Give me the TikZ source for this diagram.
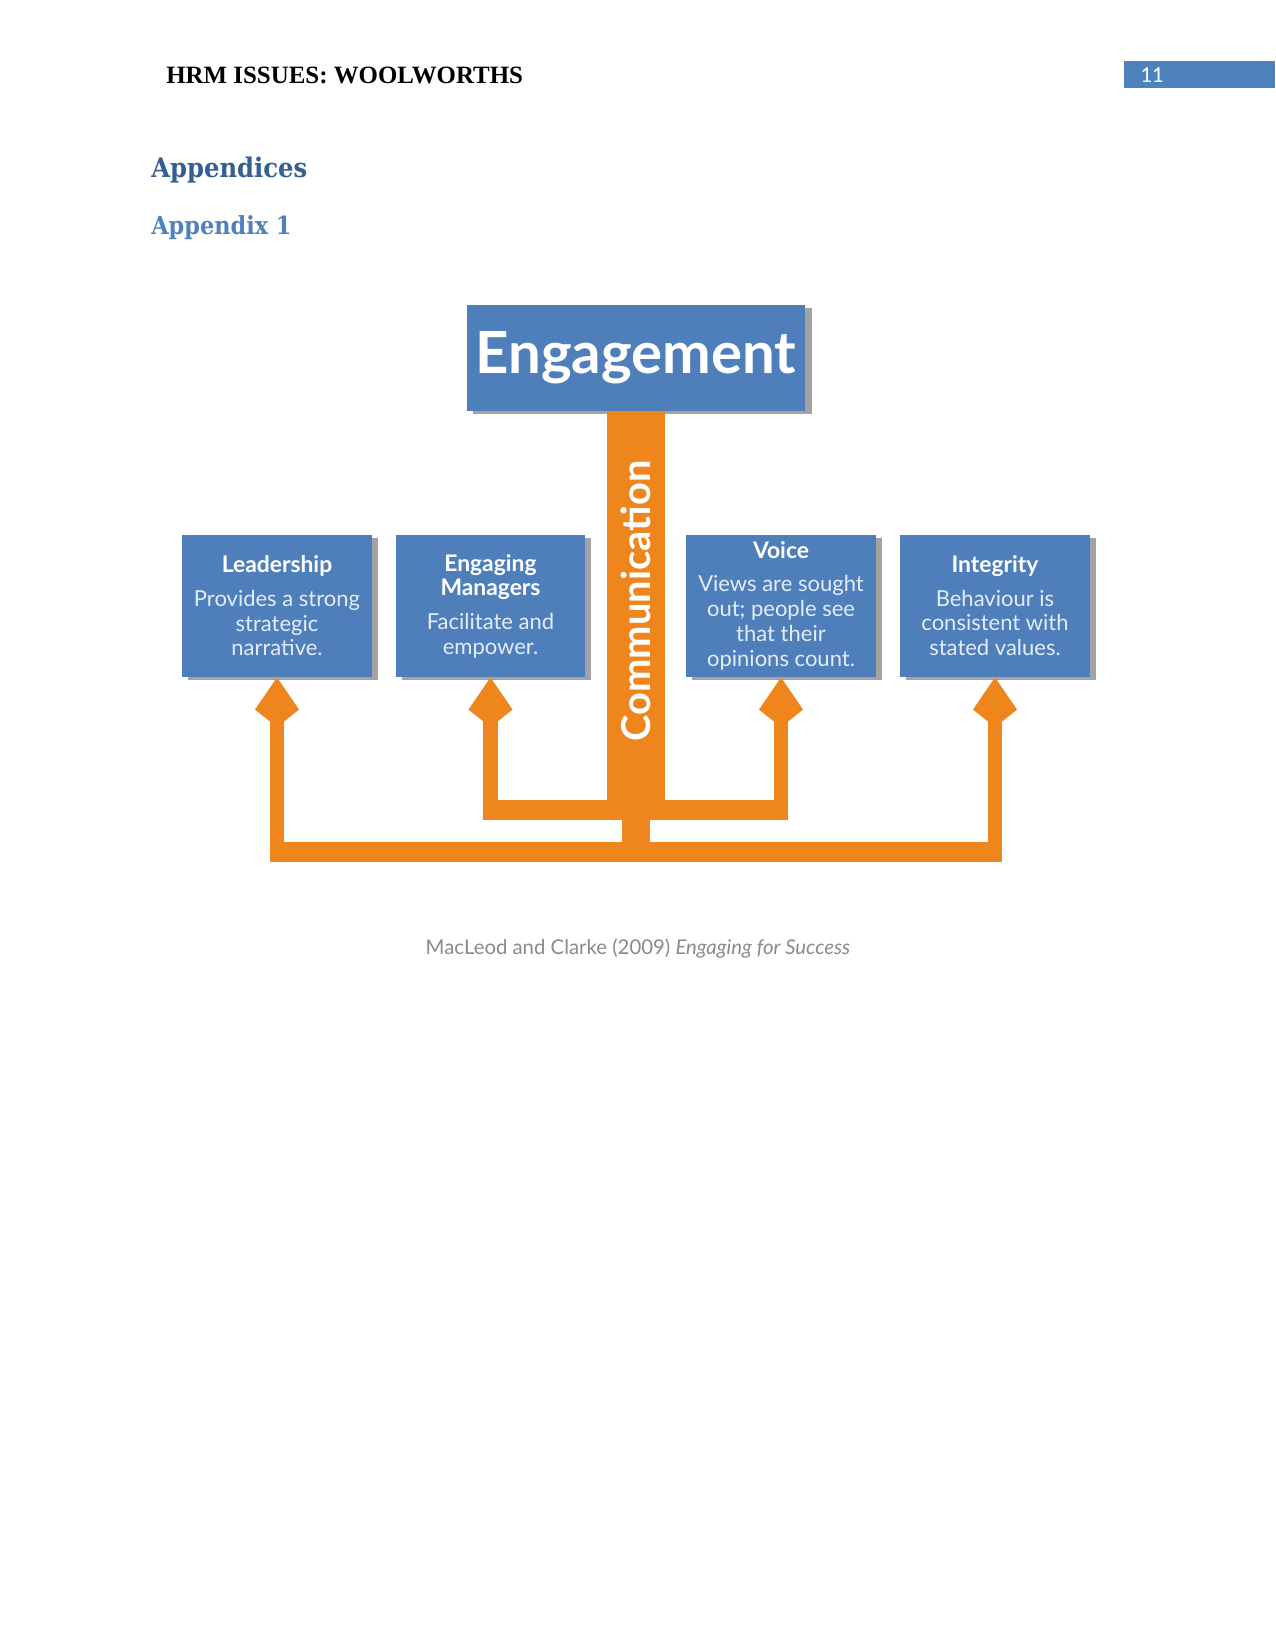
\documentclass[tikz,border=0pt]{standalone}
\usepackage{fontspec}
\setmainfont{Liberation Serif}
\newfontfamily\diagfont{Lato}
\newfontfamily\headfont{DejaVu Serif Condensed}
\newfontfamily\pagefont{Carlito}
\usepackage{xcolor}
\definecolor{cblue}{HTML}{4F81BD}
\definecolor{cdarkblue}{HTML}{365F91}
\definecolor{cbox}{HTML}{4E7FBB}
\definecolor{corange}{HTML}{EE851D}
\definecolor{cshadow}{HTML}{A3A3A3}
\definecolor{ccaption}{HTML}{8A8A8A}
\definecolor{cbody}{HTML}{E4ECF7}
\usepackage{tikz}
\usetikzlibrary{arrows.meta, positioning, shadows, calc}

\newcommand{\cardtitle}[1]{\textcolor{white}{\fontsize{11}{12.5}\selectfont\bfseries #1}}

\tikzset{
  card/.style={fill=cbox, minimum width=91.5pt, minimum height=68.4pt, inner sep=0pt,
    align=center, text=cbody, font=\diagfont\fontsize{10.6}{12}\selectfont,
    general shadow={fill=cshadow, shadow xshift=2.9pt, shadow yshift=-1.4pt}},
  arm/.style={draw=corange, line width=7.2pt,
    -{Kite[length=24pt, width=21.2pt, inset=8.5pt]}},
  crossbar/.style={draw=corange, line width=9.6pt, shorten <=-3.6pt, shorten >=-3.6pt},
}

\begin{document}
\begin{tikzpicture}[x=0.4818pt, y=-0.4818pt]
  \path[use as bounding box, fill=white] (0,0) rectangle (1275,1651);
  % Encabezado
  \node[anchor=west, font=\bfseries\fontsize{12}{14}\selectfont] (hdr) at (159,75) {HRM ISSUES: WOOLWORTHS};
  \node[anchor=north west, fill=cblue, minimum height=13pt, inner xsep=7.7pt, inner ysep=0pt,
    text width=57.3pt, align=left, text=white, font=\pagefont\fontsize{11}{13}\selectfont] (pgnum) at (1124,61) {11};
  \node[anchor=west, text=cdarkblue, font=\headfont\bfseries\fontsize{13}{15}\selectfont] (appx) at (144,170) {Appendices};
  \node[anchor=west, text=cblue, font=\headfont\bfseries\fontsize{12}{14}\selectfont] (appone) at (144,228) {Appendix 1};

  % Engagement
  \node[fill=cbox, minimum width=163.3pt, minimum height=51.1pt, inner sep=0pt, text=white,
    font=\diagfont\bfseries\fontsize{28}{30}\selectfont,
    general shadow={fill=cshadow, shadow xshift=2.9pt, shadow yshift=-1.4pt}] (eng) at (636,358) {Engagement};

  % Cajas
  \node[card] (lead) at (277,606) {\cardtitle{Leadership}\\[4pt]Provides a strong\\strategic\\narrative.};
  \node[card] (mgr) at (490.5,606) {\cardtitle{Engaging}\\\cardtitle{Managers}\\[4pt]Facilitate and\\empower.};
  \node[card] (voice) at (781,606) {\cardtitle{Voice}\\[4pt]Views are sought\\out; people see\\that their\\opinions count.};
  \node[card] (integ) at (995,606) {\cardtitle{Integrity}\\[4pt]Behaviour is\\consistent with\\stated values.};

  % Barra central
  \coordinate (hub) at (636,819);
  \coordinate (inner) at (636,810);
  \coordinate (outer) at (636,852);
  \draw[corange, line width=27.9pt] (eng.south) -- (hub);
  \draw[corange, line width=13.5pt] (hub) -- (outer);
  \node[rotate=90, text=white, font=\diagfont\bfseries\fontsize{19.2}{21}\selectfont] (comm) at (636,601) {Communication};

  % Flechas
  \draw[crossbar] (mgr.south |- inner) -- (voice.south |- inner);
  \draw[crossbar] (lead.south |- outer) -- (integ.south |- outer);
  \draw[arm] (mgr.south |- inner) -- (mgr.south);
  \draw[arm] (voice.south |- inner) -- (voice.south);
  \draw[arm] (lead.south |- outer) -- (lead.south);
  \draw[arm] (integ.south |- outer) -- (integ.south);

  % Fuente
  \node[text=ccaption, font=\diagfont\fontsize{9.8}{12}\selectfont] (src) at (638,948) {MacLeod and Clarke (2009) \textit{Engaging for Success}};
\end{tikzpicture}
\end{document}
